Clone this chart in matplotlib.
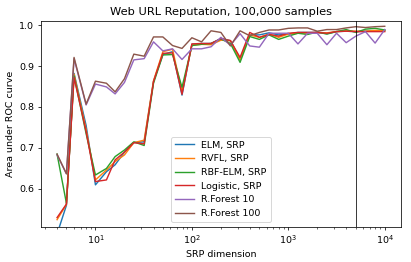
import numpy as np
import matplotlib
matplotlib.use("Agg")
import matplotlib.pyplot as plt

srp_dims = [4, 5, 6, 8, 10, 13, 16, 20, 25, 32, 40, 50, 63, 79, 100, 126, 158, 200,
            251, 316, 398, 501, 631, 794, 1000, 1259, 1585, 1995, 2512, 3162, 3981,
            5012, 6310, 7943, 10000]

elm = [0.49, 0.560, 0.882, 0.755, 0.610, 0.642, 0.659, 0.690, 0.713, 0.715, 0.862,
       0.928, 0.935, 0.829, 0.953, 0.955, 0.955, 0.967, 0.962, 0.916, 0.976, 0.976,
       0.981, 0.976, 0.978, 0.982, 0.982, 0.982, 0.979, 0.984, 0.985, 0.984, 0.985,
       0.986, 0.987]
rvfl = [0.525, 0.562, 0.880, 0.745, 0.622, 0.646, 0.667, 0.683, 0.713, 0.719, 0.864,
        0.935, 0.941, 0.837, 0.951, 0.953, 0.952, 0.963, 0.962, 0.915, 0.976, 0.970,
        0.978, 0.970, 0.978, 0.980, 0.981, 0.982, 0.981, 0.984, 0.986, 0.985, 0.985,
        0.987, 0.986]
rbf_elm = [0.685, 0.565, 0.876, 0.735, 0.634, 0.650, 0.679, 0.695, 0.715, 0.706, 0.858,
           0.927, 0.928, 0.848, 0.950, 0.953, 0.955, 0.966, 0.955, 0.909, 0.972, 0.965,
           0.976, 0.965, 0.973, 0.980, 0.977, 0.983, 0.978, 0.984, 0.989, 0.982, 0.990,
           0.992, 0.988]
logistic = [0.530, 0.563, 0.872, 0.740, 0.618, 0.622, 0.671, 0.690, 0.713, 0.710, 0.862,
            0.931, 0.932, 0.831, 0.954, 0.955, 0.955, 0.967, 0.962, 0.921, 0.982, 0.970,
            0.977, 0.973, 0.980, 0.982, 0.982, 0.982, 0.980, 0.984, 0.985, 0.984, 0.984,
            0.984, 0.984]
rf10 = [0.683, 0.637, 0.918, 0.805, 0.856, 0.849, 0.832, 0.860, 0.915, 0.918, 0.959,
        0.937, 0.942, 0.916, 0.942, 0.942, 0.947, 0.970, 0.951, 0.979, 0.949, 0.946,
        0.980, 0.980, 0.980, 0.954, 0.980, 0.980, 0.952, 0.980, 0.957, 0.973, 0.984,
        0.956, 0.989]
rf100 = [0.685, 0.637, 0.921, 0.807, 0.863, 0.858, 0.837, 0.869, 0.929, 0.924, 0.971,
         0.971, 0.950, 0.943, 0.969, 0.959, 0.986, 0.982, 0.949, 0.986, 0.974, 0.982,
         0.988, 0.988, 0.992, 0.993, 0.993, 0.985, 0.989, 0.989, 0.993, 0.996, 0.994,
         0.996, 0.997]

series = [
    ("ELM, SRP", elm, "#1f77b4"),
    ("RVFL, SRP", rvfl, "#ff7f0e"),
    ("RBF-ELM, SRP", rbf_elm, "#2ca02c"),
    ("Logistic, SRP", logistic, "#d62728"),
    ("R.Forest 10", rf10, "#9467bd"),
    ("R.Forest 100", rf100, "#8c564b"),
]

fig = plt.figure(figsize=(411 / 68, 262 / 68), dpi=68)
ax = fig.add_axes([0.099, 0.135, 0.877, 0.785])
for label, vals, color in series:
    ax.plot(srp_dims, vals, color=color, label=label, lw=1.5)
ax.axvline(5000, color="k", lw=0.8)
ax.set_xscale("log")
ax.set_ylim(0.508, 1.01)
ax.set_yticks([0.6, 0.7, 0.8, 0.9, 1.0])
ax.set_title("Web URL Reputation, 100,000 samples")
ax.set_xlabel("SRP dimension")
ax.set_ylabel("Area under ROC curve")
ax.legend(loc="lower center")
fig.savefig("out.png", dpi=68)
